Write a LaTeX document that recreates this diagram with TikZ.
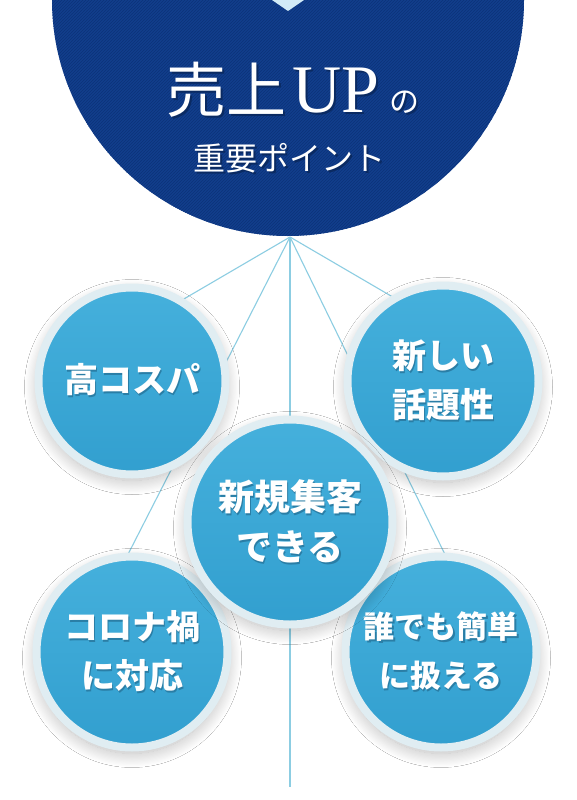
\documentclass[tikz,border=0pt]{standalone}
\usepackage{fontspec}
\newfontfamily\jpfont{Noto Sans CJK JP}
\newfontfamily\upfont{Liberation Serif}
\usetikzlibrary{patterns,shadows.blur}
\definecolor{NavyClr}{HTML}{123E8C}
\definecolor{StripeClr}{HTML}{0B3379}
\definecolor{NotchClr}{HTML}{D2EBF7}
\definecolor{BallClr}{HTML}{329FCF}
\definecolor{BallTopClr}{HTML}{45B0DC}
\definecolor{RingClr}{HTML}{E0EDF2}
\definecolor{RayClr}{HTML}{8CCDE2}
\definecolor{TxtShadowClr}{HTML}{2A7EA6}
\definecolor{TitleShadowClr}{HTML}{0A2A62}
\newcommand\shtxt[1]{\rlap{\kern1.5pt\raisebox{-2pt}{\textcolor{TxtShadowClr}{#1}}}#1}
\newcommand\shtitle[1]{\rlap{\kern2pt\raisebox{-2pt}{\textcolor{TitleShadowClr}{#1}}}#1}

\begin{document}
\begin{tikzpicture}[x=1pt,y=-1pt,
  ball/.style={circle,draw=RingClr,line width=8pt,top color=BallTopClr,bottom color=BallClr,
    minimum size=191pt,inner sep=0pt,text=white,align=center,
    font=\jpfont\bfseries\fontsize{34}{49}\selectfont,
    blur shadow={shadow xshift=0pt,shadow yshift=-6pt,shadow scale=1,
      shadow blur radius=14pt,shadow blur steps=24,shadow opacity=28}},
  bigball/.style={ball,minimum size=205pt,font=\jpfont\bfseries\fontsize{36}{50}\selectfont},
  ray/.style={RayClr,line width=1.1pt}]
\useasboundingbox (0,0) rectangle (577,800);
\fill[white] (0,0) rectangle (577,800);

\fill[NavyClr] (288,0) circle[radius=236];
\fill[pattern=north east lines,pattern color=StripeClr] (288,0) circle[radius=236];
\fill[NotchClr] (272,0) -- (304,0) -- (288,11) -- cycle;

\node[anchor=base,text=white,inner sep=0pt] (title) at (293,112)
  {\jpfont\fontsize{60}{60}\selectfont\shtitle{売上}\hspace{6pt}\upfont\fontsize{68}{68}\selectfont\shtitle{UP}\hspace{10pt}\jpfont\fontsize{30}{30}\selectfont\shtitle{の}};
\node[anchor=base,text=white,inner sep=0pt,font=\jpfont\fontsize{32}{32}\selectfont] (subtitle) at (289,170) {\shtitle{重要ポイント}};

\coordinate (apex) at (290,237);
\coordinate (rayA) at (165,310);
\coordinate (rayB) at (120,570);
\coordinate (rayC) at (290,787);
\coordinate (rayD) at (415,310);
\coordinate (rayE) at (455,575);

\draw[ray] (apex) -- (rayA);
\draw[ray] (apex) -- (rayB);
\draw[ray] (apex) -- (rayC);
\draw[ray] (apex) -- (rayD);
\draw[ray] (apex) -- (rayE);

\node[ball,minimum size=187pt] (cost) at (132,381) {\shtxt{高コスパ}};
\node[ball] (topic) at (443,381) {\shtxt{新しい}\\\shtxt{話題性}};
\node[ball] (corona) at (132,652) {\shtxt{コロナ禍}\\\shtxt{に対応}};
\node[ball,font=\jpfont\bfseries\fontsize{31}{49}\selectfont] (easy) at (441,652) {\shtxt{誰でも簡単}\\\shtxt{に扱える}};
\node[bigball] (newcust) at (290,522) {\shtxt{新規集客}\\\shtxt{できる}};

\end{tikzpicture}
\end{document}
